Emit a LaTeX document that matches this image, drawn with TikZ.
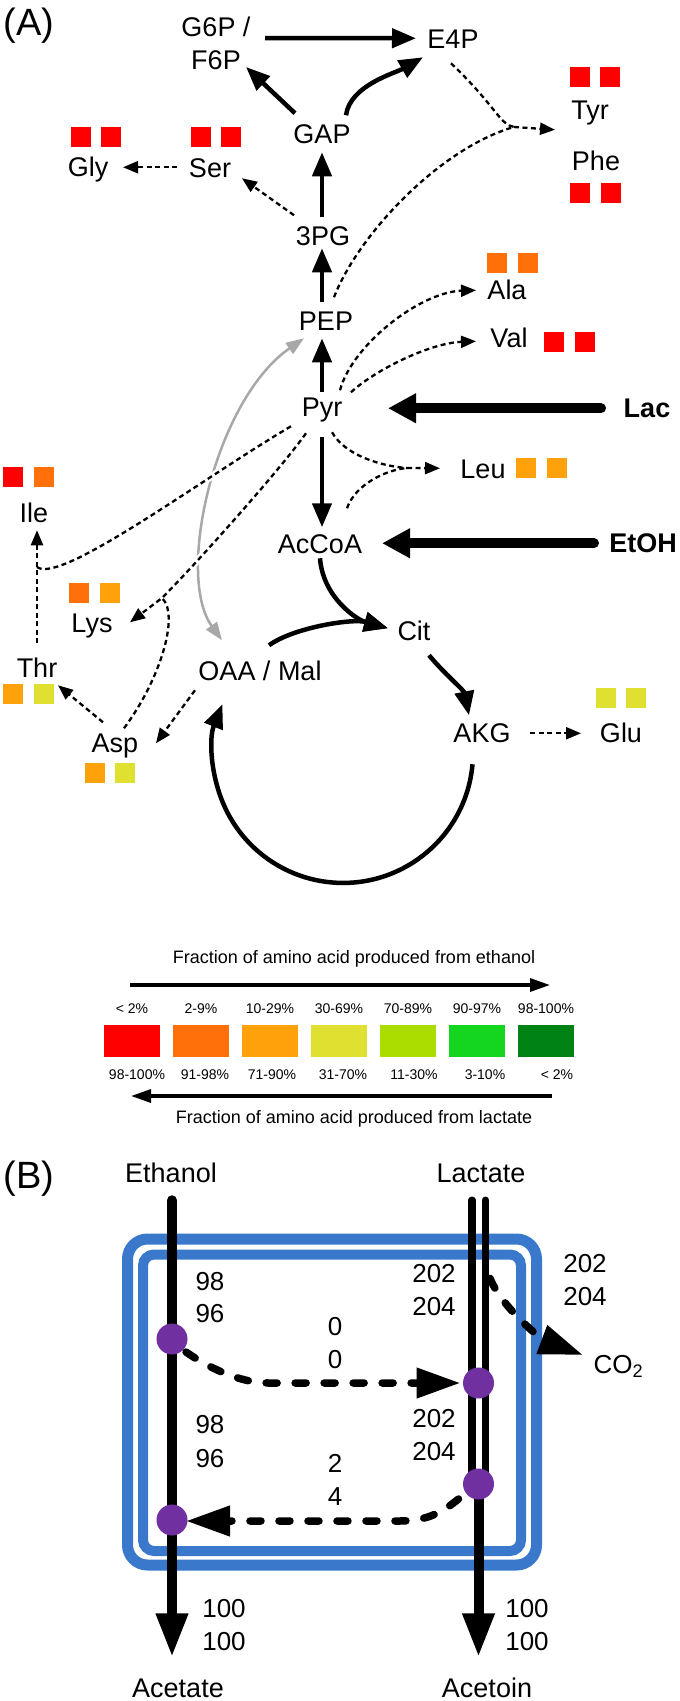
\documentclass[tikz,border=0pt]{standalone}
\usepackage{fontspec}
\setmainfont{Liberation Sans}
\usetikzlibrary{arrows.meta,calc}
\definecolor{cA}{HTML}{FF0000}
\definecolor{cB}{HTML}{FF700A}
\definecolor{cC}{HTML}{FFA10A}
\definecolor{cD}{HTML}{DFE030}
\definecolor{cE}{HTML}{ABDD00}
\definecolor{cF}{HTML}{14D61E}
\definecolor{cG}{HTML}{008214}
\definecolor{boxblue}{HTML}{3A78CC}
\definecolor{dotpurple}{HTML}{7030A0}
\definecolor{graycurve}{HTML}{A8A8A8}
\begin{document}
\begin{tikzpicture}[x=1pt,y=-1pt,
  lbl/.style={font=\fontsize{27}{33}\selectfont, inner sep=0pt, text height=19.5pt, text depth=0pt, anchor=base},
  boldlbl/.style={lbl, font=\fontsize{27}{33}\selectfont\bfseries},
  numlbl/.style={font=\fontsize{26}{30}\selectfont, inner sep=0pt, text height=18.6pt, text depth=0pt, anchor=base},
  legtitle/.style={font=\fontsize{18}{22}\selectfont, inner sep=0pt, anchor=base},
  pct/.style={font=\fontsize{14}{17}\selectfont, inner sep=0pt, anchor=base},
  panel/.style={font=\fontsize{38}{44}\selectfont, inner sep=0pt, anchor=base},
  thickarr/.style={line width=4.5pt, -{Triangle[length=24pt,width=19pt]}},
  fatarr/.style={line width=10pt, line cap=round, -{Triangle[length=28pt,width=28pt]}},
  dashline/.style={line width=2.3pt, dash pattern=on 5pt off 3.5pt},
  dasharr/.style={dashline, -{Triangle[length=15pt,width=12pt]}},
  grayarr/.style={line width=2.5pt, draw=graycurve, {Triangle[length=18pt,width=13pt]}-{Triangle[length=18pt,width=13pt]}},
  legarr/.style={line width=3.3pt, -{Triangle[length=20pt,width=13pt]}},
  ethline/.style={line width=10pt, line cap=round},
  lacline/.style={line width=7.5pt, line cap=round},
  bigtip/.style={-{Triangle[length=44pt,width=30pt]}},
  fatdash/.style={line width=7.5pt, line cap=round, dash pattern=on 11pt off 18pt, -{Triangle[length=44pt,width=29pt]}},
  dot/.style={circle, fill=dotpurple, minimum size=31pt, inner sep=0pt},
  sq/.style={minimum width=20pt, minimum height=20pt}
]
\fill[white] (0,0) rectangle (680,1701);
\useasboundingbox (0,0) rectangle (680,1701);

% ---------- panel A labels ----------
\node[panel] (labA) at (29,35) {(A)};
\node[font=\fontsize{27}{33}\selectfont, inner sep=0pt, align=center, anchor=north] (g6p) at (216,17) {G6P /\\F6P};
\node[lbl] (e4p) at (453,48) {E4P};
\node[lbl] (gap) at (322,143) {GAP};
\node[lbl] (p3pg) at (323,245) {3PG};
\node[lbl] (pep) at (326,330) {PEP};
\node[lbl] (pyr) at (322,416) {Pyr};
\node[lbl] (accoa) at (320,553) {AcCoA};
\node[lbl] (cit) at (414,640) {Cit};
\node[lbl] (oaa) at (260,680) {OAA / Mal};
\node[lbl] (akg) at (482,742) {AKG};
\node[lbl] (glu) at (621,742) {Glu};
\node[lbl] (asp) at (115,752) {Asp};
\node[lbl] (thr) at (37,677) {Thr};
\node[lbl] (lys) at (92,632) {Lys};
\node[lbl] (ile) at (34,522) {Ile};
\node[lbl] (leu) at (483,478) {Leu};
\node[lbl] (val) at (509,347) {Val};
\node[lbl] (ala) at (507,299) {Ala};
\node[lbl] (tyr) at (590,119.5) {Tyr};
\node[lbl] (phe) at (596,170) {Phe};
\node[lbl] (ser) at (210,177) {Ser};
\node[lbl] (gly) at (88,176.5) {Gly};
\node[boldlbl] (lac) at (647,417) {Lac};
\node[boldlbl] (etoh) at (643,552) {EtOH};

% ---------- squares ----------
\fill[cA] (570,67) rectangle ++(20,20); \fill[cA] (600,67) rectangle ++(20,20);
\fill[cA] (570,183) rectangle ++(20,20); \fill[cA] (601,183) rectangle ++(20,20);
\fill[cA] (71,127) rectangle ++(20,20); \fill[cA] (101,127) rectangle ++(20,20);
\fill[cA] (191,127) rectangle ++(20,20); \fill[cA] (221,127) rectangle ++(20,20);
\fill[cB] (487,253) rectangle ++(20,20); \fill[cB] (518,253) rectangle ++(20,20);
\fill[cA] (544,332) rectangle ++(20,20); \fill[cA] (575,332) rectangle ++(20,20);
\fill[cC] (516,458) rectangle ++(20,20); \fill[cC] (547,458) rectangle ++(20,20);
\fill[cA] (3,467) rectangle ++(20,20); \fill[cB] (34,467) rectangle ++(20,20);
\fill[cB] (69,583) rectangle ++(20,20); \fill[cC] (100,583) rectangle ++(20,20);
\fill[cC] (3,684) rectangle ++(20,20); \fill[cD] (34,684) rectangle ++(20,20);
\fill[cC] (85,763) rectangle ++(20,20); \fill[cD] (115,763) rectangle ++(20,20);
\fill[cD] (596,688) rectangle ++(20,20); \fill[cD] (626,688) rectangle ++(20,20);

% ---------- gray anaplerotic curve ----------
\draw[grayarr] ($(pep)+(-22,18)$) .. controls (215,400) and (175,575) .. ($(oaa)+(-38,-30)$);

\coordinate (jtyr) at (514,127);
\coordinate (jleu) at (407,468);
\coordinate (jile) at (37,567);
\coordinate (jlys) at (162,598);

% white halos where dashed lines cross the gray curve
\draw[white, line width=7pt] ($(pyr)+(-31,20)$) .. controls (200,480) and (60,585) .. (jile);
\draw[white, line width=7pt] ($(pyr)+(-16,27)$) .. controls (280,470) and (195,565) .. (jlys);

% ---------- solid arrows ----------
\draw[thickarr] ($(g6p.north)+(49,21)$) -- ($(e4p)+(-37,0)$);
\draw[thickarr] ($(gap)+(-27,-20)$) -- ($(g6p.north)+(30,50)$);
\draw[thickarr] ($(gap)+(24,-18)$) .. controls +(4,-30) and +(-28,16) .. ($(e4p)+(-30,19)$);
\draw[thickarr] ($(p3pg)+(-1,-18)$) -- ($(gap)+(0,19)$);
\draw[thickarr] ($(pep)+(-4,-18)$) -- ($(p3pg)+(-1,13)$);
\draw[thickarr] ($(pyr)+(0,-14)$) -- ($(pep)+(-4,18)$);
\draw[thickarr] ($(pyr)+(0,31)$) -- ($(accoa)+(2,-16)$);
\draw[fatarr] ($(lac)+(-46,1)$) -- ($(pyr)+(66,2)$);
\draw[fatarr] ($(etoh)+(-49,1)$) -- ($(accoa)+(62,0)$);
\draw[thickarr] ($(accoa)+(0,15)$) .. controls +(3,40) and +(-30,-8) .. ($(cit)+(-26,-2)$);
\draw[thickarr] ($(oaa)+(9,-25)$) .. controls +(25,-18) and +(-35,-10) .. ($(cit)+(-26,-2)$);
\draw[thickarr] ($(cit)+(15,25)$) .. controls +(15,18) and +(-5,-25) .. ($(akg)+(-13,-17)$);
\draw[thickarr] ($(akg)+(-9.5,32)$) arc[start angle=5, end angle=202, radius=130];

% ---------- dashed arrows ----------
\draw[dasharr] ($(ser)+(-33,0)$) -- ($(gly)+(35,0.5)$);
\draw[dasharr] ($(p3pg)+(-29,-20)$) -- ($(ser)+(32,11)$);
\draw[dashline] ($(e4p)+(-2,25)$) .. controls (495,105) and (500,125) .. (jtyr);
\draw[dashline] ($(pep)+(8,-23)$) .. controls (358,235) and (440,148) .. (jtyr);
\draw[dasharr] (jtyr) -- ($(tyr)+(-35,20)$);
\draw[dasharr] ($(pyr)+(18,-16)$) .. controls (352,345) and (420,292) .. ($(ala)+(-31,1)$);
\draw[dasharr] ($(pyr)+(29,-14)$) .. controls (375,370) and (430,343) .. ($(val)+(-33,4)$);
\draw[dashline] ($(pyr)+(10,26)$) .. controls (345,455) and (380,466) .. (jleu);
\draw[dashline] ($(accoa)+(27,-35)$) .. controls (355,485) and (385,470) .. (jleu);
\draw[dasharr] (jleu) -- ($(leu)+(-43,0)$);
\draw[dashline] ($(pyr)+(-31,20)$) .. controls (200,480) and (60,585) .. (jile);
\draw[dasharr] ($(thr)+(0,-24)$) -- ($(ile)+(3,18)$);
\draw[dasharr] ($(pyr)+(-16,27)$) .. controls (280,470) and (195,565) .. (jlys) -- ($(lys)+(38,0)$);
\draw[dashline] ($(asp)+(9,-14)$) .. controls (160,680) and (180,615) .. (jlys);
\draw[dasharr] ($(asp)+(-12,-20)$) -- ($(thr)+(21,18)$);
\draw[dasharr] ($(oaa)+(-65,20)$) -- ($(asp)+(41,1)$);
\draw[dasharr] ($(akg)+(48,1)$) -- ($(glu)+(-40,1)$);

% ---------- legend ----------
\node[legtitle] (lt1) at (354,963) {Fraction of amino acid produced from ethanol};
\coordinate (la1) at (130,985);
\coordinate (la2) at (550,985);
\draw[legarr] (la1) -- (la2);
\foreach \i/\c/\t in {0/cA/{< 2\%},1/cB/{2-9\%},2/cC/{10-29\%},3/cD/{30-69\%},4/cE/{70-89\%},5/cF/{90-97\%},6/cG/{98-100\%}}{
  \fill[\c] (104+69*\i,1025) rectangle ++(56,32);
  \node[pct] (tp\i) at (132+69*\i,1013) {\t};
}
\node[pct] (bp0) at (137,1079) {98-100\%};
\node[pct] (bp1) at (205,1079) {91-98\%};
\node[pct] (bp2) at (272,1079) {71-90\%};
\node[pct] (bp3) at (343,1079) {31-70\%};
\node[pct] (bp4) at (414,1079) {11-30\%};
\node[pct] (bp5) at (485,1079) {3-10\%};
\node[pct] (bp6) at (557,1079) {< 2\%};
\coordinate (lb1) at (552,1096);
\coordinate (lb2) at (131,1096);
\draw[legarr] (lb1) -- (lb2);
\node[legtitle] (lt2) at (354,1123) {Fraction of amino acid produced from lactate};

% ---------- panel B ----------
\node[panel] (labB) at (29,1188) {(B)};
\node[lbl] (ethanol) at (171,1182) {Ethanol};
\node[lbl] (lactate) at (481,1182) {Lactate};
\node[lbl] (acetate) at (178,1697) {Acetate};
\node[lbl] (acetoin) at (487,1697) {Acetoin};

\draw[boxblue, line width=11pt, rounded corners=20pt] (127.5,1239) rectangle (536.5,1565);
\draw[boxblue, line width=10pt, rounded corners=11pt] (143,1254.5) rectangle (521,1551);

\draw[ethline, bigtip] ($(ethanol)+(1,28)$) -- ($(acetate)+(-6,-30)$);
\draw[lacline] ($(lactate)+(-9,28)$) -- ($(lactate)+(-9,312)$);
\draw[lacline] ($(lactate)+(4.5,28)$) -- ($(lactate)+(4.5,312)$);
\draw[ethline, bigtip] ($(lactate)+(-2.5,312)$) -- ($(acetoin)+(-8.5,-30)$);

\node[dot] (d1) at (172,1339) {};
\node[dot] (d2) at (478.5,1383) {};
\node[dot] (d3) at (478.5,1484) {};
\node[dot] (d4) at (172,1520) {};

\node[numlbl] (co2) at (618.5,1373) {CO\textsubscript{2}};

\draw[fatdash] ($(d1)+(14,13)$) .. controls +(20,14) and +(-30,0) .. ($(d2)+(-210,0)$) -- ($(d2)+(-18,0)$);
\draw[fatdash] ($(d3)+(-20,15)$) .. controls +(-15,12) and +(30,0) .. ($(d4)+(227,1)$) -- ($(d4)+(14,1)$);
\draw[fatdash] ($(lactate)+(9,106)$) .. controls +(12,30) and +(-40,-15) .. ($(co2)+(-35.5,-8.7)$);

\node[numlbl] (n98a) at (210,1290) {98};
\node[numlbl] (n96a) at (210,1322) {96};
\node[numlbl] (n202a) at (434,1282) {202};
\node[numlbl] (n204a) at (434,1315) {204};
\node[numlbl] (n202b) at (585,1272) {202};
\node[numlbl] (n204b) at (585,1305) {204};
\node[numlbl] (n0a) at (335,1335) {0};
\node[numlbl] (n0b) at (335,1368) {0};
\node[numlbl] (n98b) at (210,1433) {98};
\node[numlbl] (n96b) at (210,1467) {96};
\node[numlbl] (n202c) at (434,1427) {202};
\node[numlbl] (n204c) at (434,1460) {204};
\node[numlbl] (n2) at (335,1472) {2};
\node[numlbl] (n4) at (335,1505) {4};
\node[numlbl] (n100a) at (224,1617) {100};
\node[numlbl] (n100b) at (224,1650) {100};
\node[numlbl] (n100c) at (527,1617) {100};
\node[numlbl] (n100d) at (527,1650) {100};
\end{tikzpicture}
\end{document}
